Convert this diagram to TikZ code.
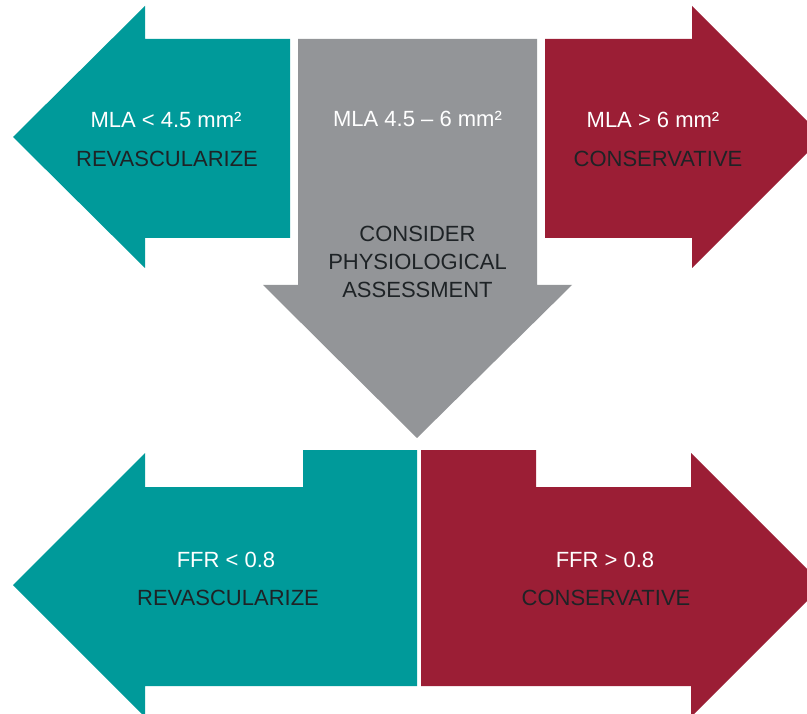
\documentclass[tikz,border=0pt]{standalone}
\usepackage{fontspec}
\setmainfont{Liberation Sans}
\usepackage{tikz}

\definecolor{ivusteal}{HTML}{009A9A}
\definecolor{ivusred}{HTML}{9B1E35}
\definecolor{ivusgray}{HTML}{939598}
\definecolor{ivusdark}{HTML}{1E2326}

\begin{document}
\begin{tikzpicture}[x=1pt,y=-1pt,
    lbl/.style={font=\fontsize{22}{28}\selectfont, anchor=base, inner sep=0pt},
    hi/.style={lbl, text=white},
    lo/.style={lbl, text=ivusdark}]
    \useasboundingbox (0,0) rectangle (807,714);
    \clip (0,0) rectangle (807,714);

    % Top row (MLA thresholds)
    \begin{scope}
        \fill[ivusteal] (13,137) -- (145,6) -- (145,39) -- (290,39) -- (290,238)
            -- (145,238) -- (145,268) -- cycle;
        \fill[ivusgray] (298,39) -- (537,39) -- (537,285) -- (572,285) -- (417,438)
            -- (263,285) -- (298,285) -- cycle;
        \fill[ivusred] (545,39) -- (692,39) -- (692,6) -- (823,137) -- (692,268)
            -- (692,238) -- (545,238) -- cycle;

        \node[hi] (mlalow) at (166,128) {MLA < 4.5 mm²};
        \node[lo] (revtop) at (167,167) {REVASCULARIZE};
        \node[hi] (mlamid) at (417.5,127) {MLA 4.5 – 6 mm²};
        \node[lo] (consider) at (417.5,242) {CONSIDER};
        \node[lo] (physio) at (417.5,270) {PHYSIOLOGICAL};
        \node[lo] (assess) at (417.5,298) {ASSESSMENT};
        \node[hi] (mlahigh) at (653,128) {MLA > 6 mm²};
        \node[lo] (constop) at (658,167) {CONSERVATIVE};
    \end{scope}

    % Bottom row (FFR thresholds)
    \begin{scope}
        \fill[ivusteal] (13,585) -- (145,453) -- (145,487) -- (303,487) -- (303,450)
            -- (417,450) -- (417,686) -- (145,686) -- (145,717) -- cycle;
        \fill[ivusred] (421,450) -- (536,450) -- (536,487) -- (691,487) -- (691,453)
            -- (823,585) -- (691,717) -- (691,686) -- (421,686) -- cycle;

        \node[hi] (ffrlow) at (226,567) {FFR < 0.8};
        \node[lo] (revbot) at (228,605) {REVASCULARIZE};
        \node[hi] (ffrhigh) at (605,567) {FFR > 0.8};
        \node[lo] (consbot) at (606,605) {CONSERVATIVE};
    \end{scope}
\end{tikzpicture}
\end{document}
